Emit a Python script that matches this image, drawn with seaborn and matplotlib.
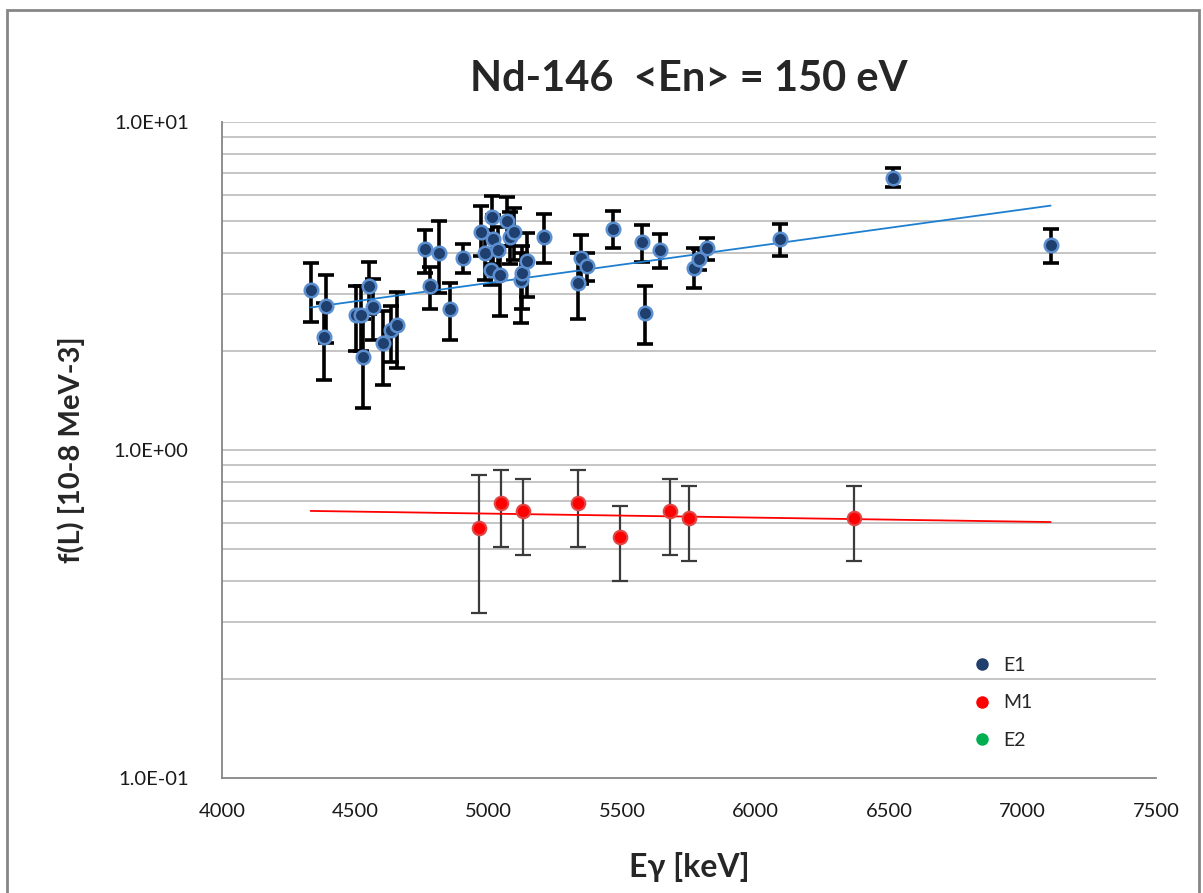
import numpy as np
import pandas as pd
import matplotlib
matplotlib.use("Agg")
import matplotlib.pyplot as plt
import seaborn as sns
from matplotlib.lines import Line2D
from matplotlib.patches import Rectangle
from matplotlib.ticker import FixedLocator, FuncFormatter, NullLocator

# ---- data ----
e1_x = [4333, 4382, 4389, 4501, 4521, 4530, 4550, 4565, 4604, 4633, 4657,
        4760, 4779, 4814, 4854, 4902,
        4970, 4986, 5008, 5011, 5017, 5035, 5042, 5069, 5079, 5094, 5122,
        5125, 5143, 5207,
        5335, 5344, 5366, 5467, 5573, 5585, 5641, 5770, 5789, 5816, 6091,
        6516, 7105]
e1_y = [3.07, 2.215, 2.75, 2.58, 2.58, 1.92, 3.17, 2.72, 2.115, 2.32, 2.405,
        4.09, 3.17, 3.98, 2.685, 3.84,
        4.61, 4.00, 3.54, 5.14, 4.40, 4.07, 3.41, 4.99, 4.47, 4.61, 3.30,
        3.46, 3.77, 4.47,
        3.22, 3.84, 3.65, 4.72, 4.32, 2.61, 4.07, 3.60, 3.82, 4.12, 4.40,
        6.73, 4.22]
e1_hi = [3.71, 2.80, 3.41, 3.17, 3.17, 2.50, 3.735, 3.31, 2.66, 2.75, 3.04,
         4.685, 3.62, 4.99, 3.24, 4.25,
         5.55, 4.70, 4.10, 5.95, 5.20, 4.80, 4.20, 5.92, 5.30, 5.47, 4.00,
         4.20, 4.58, 5.23,
         3.98, 4.52, 4.00, 5.37, 4.85, 3.16, 4.55, 4.12, 4.10, 4.44, 4.89,
         7.22, 4.72]
e1_lo = [2.46, 1.634, 2.115, 2.01, 2.01, 1.34, 2.60, 2.165, 1.578, 1.85, 1.78,
         3.47, 2.70, 3.005, 2.165, 3.47,
         3.90, 3.30, 3.18, 4.35, 3.70, 3.40, 2.56, 4.20, 3.70, 3.80, 2.44,
         2.70, 2.93, 3.72,
         2.50, 3.20, 3.27, 4.12, 3.735, 2.10, 3.60, 3.11, 3.55, 3.79, 3.905,
         6.32, 3.72]

m1_x = [4963, 5045, 5129, 5335, 5491, 5679, 5750, 6368]
m1_y = [0.577, 0.688, 0.652, 0.688, 0.542, 0.652, 0.622, 0.622]
m1_hi = [0.839, 0.869, 0.814, 0.869, 0.676, 0.814, 0.778, 0.778]
m1_lo = [0.318, 0.507, 0.4785, 0.507, 0.3995, 0.4785, 0.459, 0.459]

# trend lines (values at their two ends)
trend_x = [4332, 7105]
e1_trend_y = [2.72, 5.56]
m1_trend_y = [0.652, 0.603]

series_names = ["E1", "M1", "E2"]
series_colors = {"E1": "#1F3F6E", "M1": "#FF0000", "E2": "#00B050"}
edge_colors = {"E1": "#5B8FD0", "M1": "#E04848"}

title = "Nd-146  <En> = 150 eV"
xlabel = "E\u03b3 [keV]"
ylabel = "f(L) [10-8 MeV-3]"
x_ticks = [4000, 4500, 5000, 5500, 6000, 6500, 7000, 7500]
y_major = [0.1, 1.0, 10.0]
y_major_labels = ["1.0E-01", "1.0E+00", "1.0E+01"]

# ---- figure ----
sns.set_theme(style="white")
plt.rcParams['font.family'] = ['Lato', 'DejaVu Sans']

fig = plt.figure(figsize=(12.03, 8.93), dpi=100)
W, H = 1203, 893
ax = fig.add_axes([222 / W, 1 - 778 / H, (1156 - 222) / W, (778 - 122) / H])

ax.set_yscale("log")
ax.set_ylim(0.1, 10)
ax.set_xlim(4000, 7500)

# gridlines (major + minor on y)
grid_vals = []
for dec in [0.1, 1.0]:
    for k in range(1, 11):
        grid_vals.append(dec * k)
for g in sorted(set(np.round(grid_vals, 6))):
    if 0.1 < g <= 10.0001:
        ax.axhline(g, color="#C0C0C0", lw=1.3, zorder=0)

e1 = pd.DataFrame({"x": e1_x, "y": e1_y, "hi": e1_hi, "lo": e1_lo, "s": "E1"})
m1 = pd.DataFrame({"x": m1_x, "y": m1_y, "hi": m1_hi, "lo": m1_lo, "s": "M1"})

# error bars
ax.errorbar(e1["x"], e1["y"], yerr=[e1["y"] - e1["lo"], e1["hi"] - e1["y"]],
            fmt="none", ecolor="black", elinewidth=2.6, capsize=6, capthick=2.6,
            zorder=2)
ax.errorbar(m1["x"], m1["y"], yerr=[m1["y"] - m1["lo"], m1["hi"] - m1["y"]],
            fmt="none", ecolor="#3A3A3A", elinewidth=1.6, capsize=6, capthick=1.6,
            zorder=2)

# trend lines (exponential -> straight on log axis)
xfit = np.linspace(trend_x[0], trend_x[1], 50)
ke = np.log(e1_trend_y[1] / e1_trend_y[0]) / (trend_x[1] - trend_x[0])
km = np.log(m1_trend_y[1] / m1_trend_y[0]) / (trend_x[1] - trend_x[0])
sns.lineplot(x=xfit, y=e1_trend_y[0] * np.exp(ke * (xfit - trend_x[0])), ax=ax,
             color="#1E7FD0", lw=1.3, zorder=3, legend=False)
sns.lineplot(x=xfit, y=m1_trend_y[0] * np.exp(km * (xfit - trend_x[0])), ax=ax,
             color="#FF0000", lw=1.3, zorder=3, legend=False)

# points
sns.scatterplot(data=e1, x="x", y="y", ax=ax, color=series_colors["E1"],
                 s=95, edgecolor=edge_colors["E1"], linewidth=1.8, zorder=4,
                 legend=False)
sns.scatterplot(data=m1, x="x", y="y", ax=ax, color=series_colors["M1"],
                 s=95, edgecolor=edge_colors["M1"], linewidth=1.5, zorder=4,
                 legend=False)

# axes styling
for side in ["top", "right"]:
    ax.spines[side].set_visible(False)
for side in ["left", "bottom"]:
    ax.spines[side].set_color("#868686")
    ax.spines[side].set_linewidth(1.3)

ax.yaxis.set_major_locator(FixedLocator(y_major))
ax.yaxis.set_major_formatter(FuncFormatter(
    lambda v, p: y_major_labels[int(np.argmin([abs(np.log10(v) - np.log10(t)) for t in y_major]))]))
ax.yaxis.set_minor_locator(NullLocator())
ax.set_xticks(x_ticks)
ax.set_xticklabels([str(t) for t in x_ticks])
ax.tick_params(axis="both", which="major", direction="out", length=7, width=1.2,
               color="#868686", labelsize=14.5, labelcolor="#1a1a1a")
ax.tick_params(axis="x", pad=11)
ax.tick_params(axis="y", pad=17)
ax.set_xlabel(xlabel, fontsize=23, fontweight="bold", labelpad=23)
ax.set_ylabel(ylabel, fontsize=21, fontweight="bold", labelpad=21)
ax.set_title(title, fontsize=30, fontweight="bold", pad=22)

# legend
handles = [Line2D([0], [0], marker="o", linestyle="none", markersize=8,
                  markerfacecolor=series_colors[n], markeredgecolor=series_colors[n])
           for n in series_names]
ax.legend(handles, series_names, loc="center left",
          bbox_to_anchor=(955 / W, 1 - 703 / H), bbox_transform=fig.transFigure,
          frameon=False, fontsize=14, labelspacing=1.05, handletextpad=0.6,
          handlelength=1.0)

# outer chart frame
fig.patches.append(Rectangle((7 / W, -0.05), (1199 - 7) / W, 1.05 - 10 / H,
                             transform=fig.transFigure, fill=False,
                             edgecolor="#868686", lw=2.0))

fig.savefig("out.png", dpi=100)
